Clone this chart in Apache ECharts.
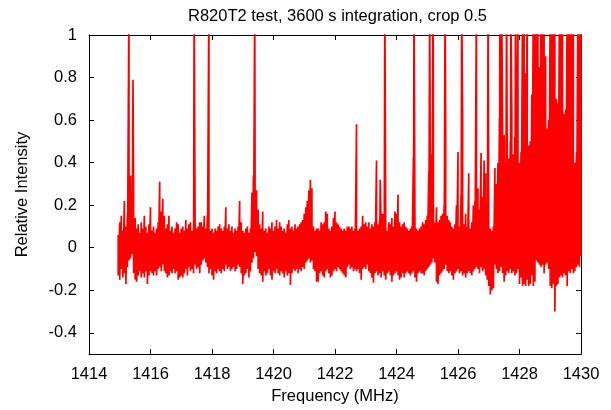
<!DOCTYPE html>
<html>
<head>
<meta charset="utf-8">
<script src="https://cdn.jsdelivr.net/npm/echarts@6/dist/echarts.min.js"></script>
<style>
html,body{margin:0;padding:0;background:#fff;}
#chart{width:611px;height:410px;}
</style>
</head>
<body>
<div id="chart"></div>
<script>
var freqStart = 1414.95;
var freqStep = 0.05;
// upper envelope of the noise band at each sample
var bandHigh = [
0.06,0.12,0.15,0.08,0.22,0.10,0.16,0.20,0.34,0.26,
0.30,0.14,0.09,0.11,0.07,0.12,0.09,0.15,0.10,0.07,
0.11,0.19,0.08,0.10,0.07,0.09,0.12,0.31,0.17,0.23,
0.15,0.09,0.11,0.15,0.08,0.10,0.07,0.09,0.12,0.11,
0.07,0.09,0.10,0.08,0.13,0.09,0.11,0.12,0.08,0.10,
0.11,0.09,0.10,0.12,0.12,0.10,0.15,0.09,0.15,0.10,
0.08,0.09,0.07,0.09,0.08,0.10,0.11,0.09,0.08,0.10,
0.19,0.09,0.11,0.08,0.10,0.07,0.09,0.08,0.10,0.22,
0.12,0.08,0.07,0.09,0.10,0.07,0.09,0.26,0.34,0.38,
0.27,0.18,0.11,0.09,0.17,0.08,0.09,0.07,0.10,0.09,
0.12,0.08,0.10,0.13,0.09,0.12,0.10,0.08,0.09,0.07,
0.11,0.13,0.09,0.10,0.08,0.11,0.09,0.10,0.11,0.12,
0.13,0.16,0.19,0.22,0.27,0.32,0.28,0.10,0.08,0.09,
0.09,0.08,0.12,0.11,0.12,0.17,0.16,0.09,0.08,0.10,
0.14,0.17,0.12,0.11,0.10,0.09,0.08,0.09,0.08,0.10,
0.10,0.09,0.10,0.08,0.09,0.10,0.08,0.09,0.10,0.15,
0.11,0.12,0.10,0.12,0.09,0.11,0.10,0.12,0.14,0.11,
0.13,0.10,0.16,0.12,0.09,0.08,0.12,0.11,0.14,0.10,
0.17,0.16,0.25,0.12,0.10,0.11,0.12,0.10,0.09,0.08,
0.09,0.10,0.42,0.10,0.09,0.08,0.09,0.10,0.12,0.11,
0.13,0.15,0.36,0.30,0.44,0.57,0.12,0.19,0.12,0.13,
0.15,0.16,0.20,0.52,0.15,0.13,0.12,0.10,0.09,0.11,
0.20,0.45,0.10,0.25,0.60,0.11,0.16,0.10,0.35,0.09,
0.12,0.20,0.22,0.25,0.28,0.18,0.445,0.24,0.41,0.35,
0.21,0.10,0.09,0.08,0.10,0.375,0.30,0.40,0.61,0.65,
0.57,0.53,0.40,0.44,0.42,0.50,0.62,0.44,0.52,0.36,
0.70,0.40,0.45,1.2,1.2,0.82,1.2,0.48,0.50,0.72,
1.2,1.2,1.2,1.2,0.85,1.2,1.2,1.2,0.90,0.56,
0.60,1.2,1.2,1.2,1.2,0.70,0.68,1.2,1.2,1.2,
0.63,0.65,1.2,1.2,1.2,1.2,1.2,0.40,0.45,1.2,
1.2,1.2
];
// lower envelope of the noise band at each sample
var bandLow = [
-0.13,-0.15,-0.10,-0.14,-0.12,-0.17,-0.09,-0.06,-0.05,-0.03,
-0.12,-0.15,-0.16,-0.13,-0.11,-0.14,-0.12,-0.14,-0.11,-0.17,
-0.13,-0.11,-0.12,-0.13,-0.11,-0.13,-0.10,-0.09,-0.11,-0.08,
-0.11,-0.12,-0.14,-0.13,-0.11,-0.12,-0.10,-0.12,-0.11,-0.15,
-0.14,-0.13,-0.14,-0.12,-0.10,-0.13,-0.09,-0.11,-0.10,-0.12,
-0.08,-0.10,-0.09,-0.12,-0.08,-0.06,-0.05,-0.07,-0.09,-0.12,
-0.10,-0.13,-0.15,-0.11,-0.12,-0.10,-0.11,-0.12,-0.10,-0.11,
-0.08,-0.10,-0.09,-0.11,-0.10,-0.09,-0.11,-0.10,-0.08,-0.09,
-0.12,-0.17,-0.13,-0.12,-0.10,-0.14,-0.11,-0.07,-0.05,-0.02,
-0.04,-0.10,-0.12,-0.13,-0.16,-0.11,-0.13,-0.12,-0.10,-0.13,
-0.15,-0.11,-0.12,-0.10,-0.12,-0.13,-0.11,-0.12,-0.14,-0.11,
-0.13,-0.12,-0.175,-0.12,-0.10,-0.11,-0.10,-0.12,-0.10,-0.11,
-0.09,-0.10,-0.07,-0.06,-0.05,-0.07,-0.06,-0.10,-0.11,-0.16,
-0.16,-0.12,-0.11,-0.13,-0.14,-0.11,-0.10,-0.12,-0.14,-0.13,
-0.11,-0.10,-0.11,-0.09,-0.10,-0.11,-0.12,-0.13,-0.14,-0.09,
-0.08,-0.10,-0.09,-0.11,-0.10,-0.11,-0.10,-0.12,-0.15,-0.10,
-0.09,-0.10,-0.08,-0.11,-0.12,-0.14,-0.165,-0.12,-0.11,-0.13,
-0.12,-0.14,-0.11,-0.13,-0.15,-0.12,-0.11,-0.13,-0.16,-0.13,
-0.12,-0.11,-0.13,-0.15,-0.14,-0.12,-0.14,-0.12,-0.11,-0.12,
-0.13,-0.12,-0.11,-0.14,-0.16,-0.12,-0.11,-0.12,-0.12,-0.13,
-0.11,-0.10,-0.09,-0.08,-0.07,-0.05,-0.07,-0.16,-0.17,-0.13,
-0.12,-0.11,-0.10,-0.08,-0.11,-0.12,-0.11,-0.13,-0.15,-0.12,
-0.11,-0.10,-0.12,-0.11,-0.13,-0.12,-0.14,-0.12,-0.11,-0.12,
-0.13,-0.11,-0.10,-0.09,-0.10,-0.12,-0.09,-0.11,-0.10,-0.13,
-0.15,-0.18,-0.22,-0.20,-0.19,-0.08,-0.10,-0.12,-0.11,-0.09,
-0.12,-0.16,-0.13,-0.11,-0.12,-0.10,-0.12,-0.11,-0.13,-0.12,
-0.10,-0.17,-0.14,-0.18,-0.17,-0.18,-0.15,-0.18,-0.17,-0.13,
-0.18,-0.16,-0.06,-0.07,-0.08,-0.09,-0.08,-0.12,-0.08,-0.07,
-0.10,-0.18,-0.19,-0.17,-0.30,-0.18,-0.17,-0.14,-0.13,-0.14,
-0.12,-0.13,-0.18,-0.11,-0.12,-0.10,-0.12,-0.11,-0.09,-0.08,
-0.09,-0.04
];
// narrow spectral lines (RFI spikes)
var spikeFreq = [1415.30,1415.43,1417.42,1417.90,1419.39,1422.70,1423.35,1423.47,1423.62,1424.57,1425.08,1425.19,1425.58,1426.12,1426.60,1426.98,1427.36,1427.42,1427.58,1427.72,1427.87,1427.95];
var spikeVal  = [1.2,0.79,1.2,1.2,1.2,0.58,0.41,0.32,1.2,1.2,1.2,1.2,1.2,1.2,1.2,1.2,1.2,1.2,1.2,1.2,1.2,1.2];
// axis ticks
var xTicks = [1414,1416,1418,1420,1422,1424,1426,1428,1430];
var yTicks = [-0.4,-0.2,0,0.2,0.4,0.6,0.8,1];

// build the line through the samples
var pts = [];
var s = 0;
for (var i = 0; i < bandHigh.length; i++) {
  var f = +(freqStart + freqStep * i).toFixed(2);
  while (s < spikeFreq.length && spikeFreq[s] <= f) {
    pts.push([spikeFreq[s], spikeVal[s]]);
    s++;
  }
  pts.push([f, bandHigh[i]]);
  pts.push([f, bandLow[i]]);
}

var font = 'Liberation Sans, Arial, Helvetica, sans-serif';
var fs = 16.5;
function tickStyle(vals) {
  return {show: true, inside: true, length: 5, customValues: vals, lineStyle: {color: '#000', width: 1}};
}
var lineAx = {show: true, onZero: false, lineStyle: {color: '#000', width: 1}};

var chart = echarts.init(document.getElementById('chart'), null, {renderer: 'canvas'});
chart.setOption({
  animation: false,
  backgroundColor: '#fff',
  title: {
    text: 'R820T2 test, 3600 s integration, crop 0.5',
    left: 183, top: 3,
    textStyle: {fontFamily: font, fontSize: fs, fontWeight: 'normal', color: '#000'}
  },
  grid: {left: 89, right: 30, top: 35, bottom: 55, containLabel: false},
  xAxis: [
    {
      type: 'value', position: 'bottom', min: 1414, max: 1430, interval: 2,
      axisLine: lineAx, splitLine: {show: false},
      axisLabel: {show: true, margin: 12, color: '#000', fontFamily: font, fontSize: fs,
        customValues: xTicks, formatter: function (v) { return String(v); }},
      axisTick: tickStyle(xTicks),
      name: 'Frequency (MHz)', nameLocation: 'middle', nameGap: 32,
      nameTextStyle: {color: '#000', fontFamily: font, fontSize: fs}
    },
    {
      type: 'value', position: 'top', min: 1414, max: 1430, interval: 2,
      axisLine: lineAx, splitLine: {show: false},
      axisLabel: {show: false},
      axisTick: tickStyle(xTicks)
    }
  ],
  yAxis: [
    {
      type: 'value', position: 'left', min: -0.5, max: 1, interval: 0.5,
      axisLine: lineAx, splitLine: {show: false},
      axisLabel: {show: true, margin: 12, color: '#000', fontFamily: font, fontSize: fs,
        customValues: yTicks, formatter: function (v) { return String(+v.toFixed(1)); }},
      axisTick: tickStyle(yTicks),
      name: 'Relative Intensity', nameLocation: 'middle', nameGap: 58,
      nameTextStyle: {color: '#000', fontFamily: font, fontSize: fs}
    },
    {
      type: 'value', position: 'right', min: -0.5, max: 1, interval: 0.5,
      axisLine: lineAx, splitLine: {show: false},
      axisLabel: {show: false},
      axisTick: tickStyle(yTicks)
    }
  ],
  series: [{
    type: 'line',
    xAxisIndex: 0, yAxisIndex: 0,
    data: pts,
    showSymbol: false, symbol: 'none',
    sampling: false,
    clip: true,
    lineStyle: {color: '#ff0000', width: 1.7},
    z: 1
  }]
});
</script>
</body>
</html>
